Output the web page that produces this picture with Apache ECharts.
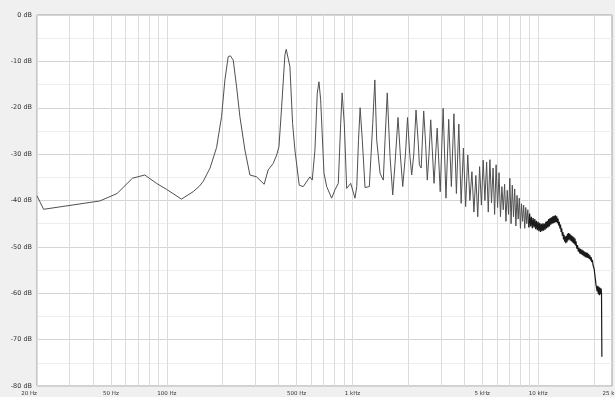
<!DOCTYPE html>
<html><head><meta charset="utf-8">
<script src="https://cdn.jsdelivr.net/npm/echarts@6/dist/echarts.min.js"></script>
<style>html,body{margin:0;padding:0;background:#f0f0f0}#c{width:615px;height:397px}</style>
</head><body><div id="c"></div>
<script>
// Frequency (Hz) and level (dB)
const lowFreqHz = [20,21.7,43.6,54,65.3,76.1,88,99.7,108,120,138.7,150,157,171,185.4,197.3,205.6,214.2,220,227.9,237.7,247.6,263.5,280.4,304.6,334.6,351.7,374.4,390.6,401.9,415.6,432.8,440,460.4,476.1,489.9,516.8,543.3,554.8,590.2,607.4,628.1,646.3,660,674.3,702.5,726.6,772.7,805.4,838.9,864.4,880,903.7,931.2,978.5,1032,1055,1078,1100,1130,1169,1233,1286,1320,1351,1408,1436,1466,1498,1540,1594,1648,1696,1760,1810,1866,1930,1980,2035,2085,2140,2200,2265,2293,2345,2420,2480,2530,2585,2640];
const lowLevelDb = [-39.0,-41.9,-40.1,-38.5,-35.2,-34.5,-36.3,-37.6,-38.5,-39.7,-38.1,-36.9,-35.9,-33.0,-28.6,-21.9,-14.0,-9.0,-8.8,-9.7,-15.5,-21.9,-29.1,-34.5,-34.9,-36.5,-33.4,-32.0,-30.2,-28.4,-19.8,-8.6,-7.4,-11.1,-23.4,-29.1,-36.7,-37.0,-36.7,-34.9,-35.6,-29.1,-16.9,-14.4,-18.3,-34.1,-37.0,-39.5,-37.7,-36.3,-23.4,-16.8,-23.4,-37.4,-36.3,-39.5,-37.0,-27.0,-20.0,-27.0,-37.2,-37.0,-23.4,-14.0,-27.0,-34.1,-34.9,-35.6,-27.0,-16.8,-30.5,-38.8,-32.0,-22.1,-30.0,-37.0,-30.0,-22.1,-30.0,-34.5,-30.0,-20.5,-28.0,-32.3,-33.0,-20.7,-28.0,-35.6,-30.0,-22.6];

const harmFreqHz = [2750,2860,2970,3080,3190,3300,3410,3520,3630,3740,3850,3960,4070,4180,4290,4400,4510,4620,4730,4840,4950,5060,5170,5280,5390,5500,5610,5720,5830,5940,6050,6160,6270,6380,6490,6600,6710,6820,6930,7040,7150,7260,7370,7480,7590,7700,7810,7920,8030,8140,8250,8360,8470,8580,8690,8800,8910];
const harmLevelDb = [-36.3,-24.4,-38.1,-20.1,-39.5,-22.5,-37.0,-21.3,-38.5,-23.5,-40.6,-28.7,-41.3,-30.2,-40.0,-33.8,-42.5,-34.6,-43.5,-32.7,-41.0,-31.3,-40.0,-31.7,-42.5,-31.2,-40.5,-33.0,-43.0,-32.3,-41.5,-34.0,-43.5,-37.0,-42.0,-36.5,-44.5,-37.8,-43.0,-35.2,-45.0,-36.7,-43.5,-37.5,-45.5,-38.9,-44.0,-39.5,-46.0,-40.7,-44.5,-41.0,-46.0,-41.5,-45.0,-42.0,-45.8];

const noiseFreqHz = [9000,9100,9200,9300,9400,9500,9600,9700,9800,9900,10000,10100,10200,10300,10400,10500,10600,10700,10800,10900,11000,11100,11200,11300,11400,11500,11600,11700,11800,11900,12000,12100,12200,12300,12400,12500,12600,12700,12800,12900,13000,13100,13200,13300,13400,13500,13600,13700,13800,13900,14000,14100,14200,14300,14400,14500,14600,14700,14800,14900,15000,15100,15200,15300,15400,15500,15600,15700,15800,15900,16000,16150,16300,16450,16600,16750,16900,17050,17200,17350,17500,17650,17800,17950,18100,18250,18400,18550,18700,18850,19000,19150,19300,19450,19600,19750,19900,20050,20200,20350,20500,20650,20800,20950,21100,21250,21400,21550,21700,21850,21950,22050];
const noiseLevelDb = [-42.8,-45.6,-43.5,-46.0,-43.8,-45.8,-44.0,-46.2,-44.4,-46.4,-44.6,-46.6,-44.8,-46.8,-45.0,-46.6,-44.9,-46.5,-45.0,-46.3,-44.6,-46.0,-44.4,-45.8,-44.0,-45.6,-43.8,-45.2,-43.6,-45.0,-43.4,-44.9,-43.3,-44.8,-43.2,-44.6,-43.4,-44.9,-43.9,-45.4,-44.6,-46.0,-45.2,-46.8,-46.0,-47.6,-46.8,-48.4,-47.4,-48.9,-47.8,-49.2,-47.6,-49.0,-47.2,-48.6,-47.0,-48.4,-47.2,-48.6,-47.4,-48.8,-47.6,-49.0,-47.8,-49.2,-48.0,-49.4,-48.2,-49.7,-48.8,-50.4,-49.6,-51.0,-50.2,-51.4,-50.4,-51.6,-50.6,-51.8,-50.8,-52.0,-51.0,-52.2,-51.2,-52.3,-51.3,-52.4,-51.5,-52.6,-51.8,-52.9,-52.2,-53.3,-52.8,-53.9,-53.6,-54.8,-56.0,-57.0,-58.2,-58.0,-59.6,-58.4,-60.2,-58.6,-60.4,-58.8,-60.2,-59.0,-60.0,-73.7];

const xLabelValues = [20,50,100,500,1000,5000,10000,25000];
const xGridValues = [20,30,40,50,60,70,80,90,100,200,300,400,500,600,700,800,900,1000,2000,3000,4000,5000,6000,7000,8000,9000,10000,20000];

const mainFreqs = lowFreqHz.concat(harmFreqHz);
const mainLevels = lowLevelDb.concat(harmLevelDb);
const mainData = mainFreqs.map((f, i) => [f, mainLevels[i]]);
const lastMain = mainData[mainData.length - 1];
const noiseData = [lastMain].concat(noiseFreqHz.map((f, i) => [f, noiseLevelDb[i]]));

const chart = echarts.init(document.getElementById('c'));
chart.setOption({
  animation: false,
  backgroundColor: '#f0f0f0',
  grid: {left: 37, right: 3, top: 15, bottom: 11, show: true, backgroundColor: '#ffffff', borderColor: '#a0a0a0', borderWidth: 1, containLabel: false, outerBoundsMode: 'none'},
  xAxis: {
    type: 'log', logBase: 10, min: 20, max: 25000,
    axisLine: {show: false},
    axisTick: {show: false, customValues: xGridValues},
    splitLine: {show: true, lineStyle: {color: '#dcdcdc', width: 1}},
    axisLabel: {
      customValues: xLabelValues,
      fontSize: 5.5, fontFamily: 'DejaVu Sans', color: '#333', margin: 5,
      alignMinLabel: 'right',
      formatter: v => v < 1000 ? v + ' Hz' : (v / 1000) + ' kHz'
    }
  },
  yAxis: {
    type: 'value', min: -80, max: 0, interval: 10,
    axisLine: {show: false}, axisTick: {show: false},
    splitLine: {show: true, lineStyle: {color: '#d4d4d4', width: 1}},
    minorTick: {show: false, splitNumber: 2},
    minorSplitLine: {show: true, lineStyle: {color: '#ededed', width: 1}},
    axisLabel: {fontSize: 6.5, fontFamily: 'DejaVu Sans', color: '#333', margin: 5, formatter: '{value} dB'}
  },
  series: [{
    type: 'line', data: mainData, showSymbol: false, symbol: 'none',
    lineStyle: {color: '#505050', width: 1}, z: 3
  }, {
    type: 'line', data: noiseData, showSymbol: false, symbol: 'none',
    lineStyle: {color: '#1a1a1a', width: 1.2}, z: 3
  }]
});
</script></body></html>
